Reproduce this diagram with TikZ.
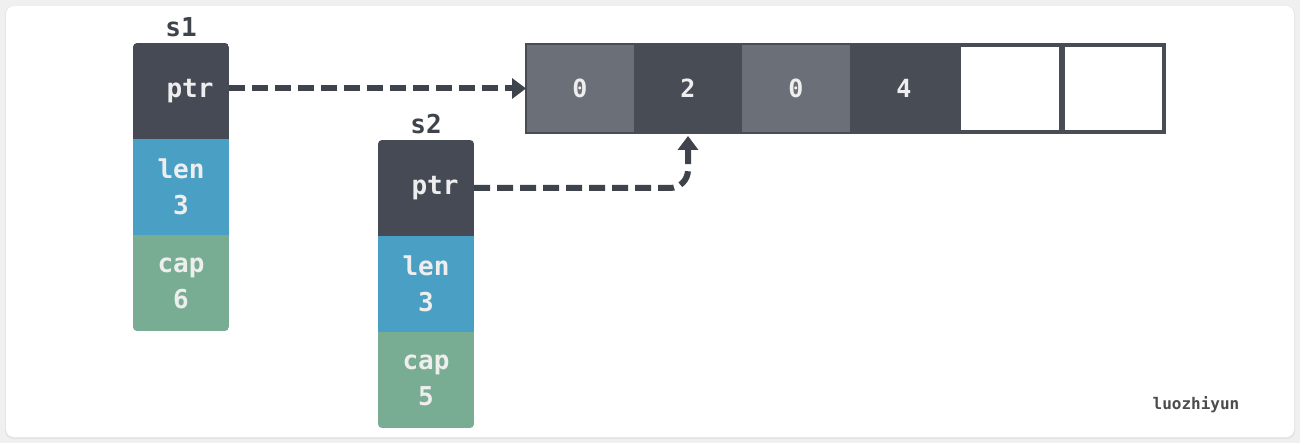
\documentclass[tikz,border=0pt]{standalone}
\usepackage{fontspec}
\usetikzlibrary{positioning,arrows.meta}
\newfontfamily\codefont{DejaVu Sans Mono}

\definecolor{ptrgray}{HTML}{454A54}
\definecolor{lenblue}{HTML}{4A9FC4}
\definecolor{capgreen}{HTML}{78AD93}
\definecolor{celllight}{HTML}{6A6F78}
\definecolor{celldark}{HTML}{474C55}
\definecolor{arrowgray}{HTML}{3F434B}
\definecolor{labelwhite}{HTML}{EEEEEE}

\tikzset{
  field/.style={minimum width=96pt, minimum height=96pt, inner sep=0pt, outer sep=0pt,
    text=labelwhite, align=center, font=\codefont\bfseries\fontsize{26}{36}\selectfont},
  ptrfield/.style={field, fill=ptrgray},
  lenfield/.style={field, fill=lenblue},
  capfield/.style={field, fill=capgreen},
  cell/.style={minimum width=108pt, minimum height=89pt, inner sep=0pt, outer sep=0pt,
    text=labelwhite, font=\codefont\bfseries\fontsize{25}{28}\selectfont},
  emptycell/.style={draw=celldark, line width=3pt, fill=white, minimum width=100.5pt,
    minimum height=86pt, inner sep=0pt, outer sep=1.5pt},
  varname/.style={text=arrowgray, font=\codefont\bfseries\fontsize{26}{28}\selectfont},
  ptrarrow/.style={draw=arrowgray, line width=6pt, dash pattern=on 16pt off 7pt,
    -{Triangle[width=20pt,length=14pt]}}
}

\begin{document}
\begin{tikzpicture}[x=1pt,y=-1pt]
  % card background
  \fill[black!6] (0,0) rectangle (1300,443);
  \fill[black!10, rounded corners=8pt] (5,6) rectangle (1295,439);
  \fill[white, rounded corners=8pt] (6,6) rectangle (1294,437);
  \useasboundingbox (0,0) rectangle (1300,443);

  % slice s1
  \begin{scope}
    \clip[rounded corners=4pt] (133,43) rectangle (229,331);
    \node[ptrfield] (s1ptr) at (181,91) {\hspace*{18pt}ptr};
    \node[lenfield, below=0pt of s1ptr] (s1len) {len\\3};
    \node[capfield, below=0pt of s1len] (s1cap) {cap\\6};
  \end{scope}
  \node[varname, above=3pt of s1ptr] (s1) {s1};

  % slice s2
  \begin{scope}
    \clip[rounded corners=4pt] (378,140) rectangle (474,428);
    \node[ptrfield] (s2ptr) at (426,188) {\hspace*{18pt}ptr};
    \node[lenfield, below=0pt of s2ptr] (s2len) {len\\3};
    \node[capfield, below=0pt of s2len] (s2cap) {cap\\5};
  \end{scope}
  \node[varname, above=3pt of s2ptr] (s2) {s2};

  % backing array
  \node[cell, fill=celllight] (c0) at (580,88.5) {0};
  \node[cell, fill=celldark, right=0pt of c0] (c1) {2};
  \node[cell, fill=celllight, right=0pt of c1] (c2) {0};
  \node[cell, fill=celldark, right=0pt of c2] (c3) {4};
  \node[emptycell, right=0pt of c3] (c4) {};
  \node[emptycell, right=0pt of c4] (c5) {};
  \draw[celldark, line width=1.5pt] (c0.north west) rectangle (c5.south east);

  % pointers
  \draw[ptrarrow] (c0.west -| s1ptr.east) -- (c0.west);
  \draw[ptrarrow, rounded corners=18pt, shorten >=3pt] (s2ptr.east) -| (c1.south);

  % watermark
  \node[text=black!70, font=\codefont\bfseries\fontsize{16}{18}\selectfont] (mark) at (1196,405) {luozhiyun};
\end{tikzpicture}
\end{document}
